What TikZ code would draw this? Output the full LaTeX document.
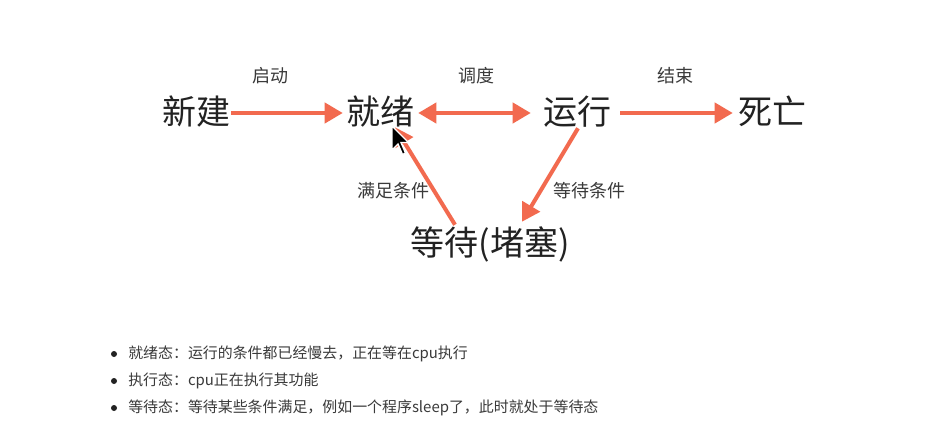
\documentclass[tikz,border=0pt]{standalone}
\usepackage{fontspec}
\setmainfont{Noto Sans CJK SC}
\usetikzlibrary{arrows.meta,calc}
\definecolor{arrc}{HTML}{F26A4F}
\definecolor{txt}{HTML}{222222}
\definecolor{lab}{HTML}{3A3A3A}
\begin{document}
\begin{tikzpicture}[x=0.75pt,y=-0.75pt,
 st/.style={font=\fontsize{25.5}{30}\selectfont, text=txt, inner sep=0pt, text height=22.4pt, text depth=3.1pt},
 lb/.style={font=\fontsize{13.5}{16}\selectfont, text=lab, inner sep=0pt},
 bl/.style={font=\fontsize{11.2}{14}\selectfont, text=lab, anchor=west, inner sep=0pt},
 bdot/.style={circle, fill=txt, inner sep=0pt, minimum size=4.5pt},
 arr/.style={draw=arrc, line width=3pt, -{Triangle[length=13.5pt,width=15pt]}},
 darr/.style={draw=arrc, line width=3pt, {Triangle[length=13.5pt,width=15pt]}-{Triangle[length=13.5pt,width=15pt]}}]
\useasboundingbox[fill=white] (0,0) rectangle (941,445);

% state nodes
\node[st] (xj) at (196,112) {新建};
\node[st] (jx) at (380,112) {就绪};
\node[st] (yx) at (577,112) {运行};
\node[st] (sw) at (772,112) {死亡};
\node[st] (dd) at (490,243) {等待(堵塞)};

% edge labels
\node[lb] (l1) at (270,76) {启动};
\node[lb] (l2) at (476,76) {调度};
\node[lb] (l3) at (675,76) {结束};
\node[lb] (l4) at (393,191) {满足条件};
\node[lb] (l5) at (589,191) {等待条件};

% connectors
\draw[arr] ($(xj.east)+(1,1)$) -- ($(jx.west)+(-3,1)$);
\draw[darr] ($(jx.east)+(4,1)$) -- ($(yx.west)+(-12,1)$);
\draw[arr] ($(yx.east)+(9,1)$) -- ($(sw.west)+(-5,1)$);
\draw[arr] ($(yx.south)+(1,-1)$) -- ($(dd.north)+(32,-4)$);
\draw[arr] ($(dd.north)+(-35,-1)$) -- ($(jx.south)+(15,-2)$);

% mouse cursor
\coordinate (cur) at (392,126);
\draw[fill=black, draw=white, line width=1pt, line join=miter]
  (cur) -- ++(0,24) -- ++(6,-6) -- ++(4.5,10.5) -- ++(3,-1.5) -- ++(-4.5,-10.5) -- ++(7.5,0) -- cycle;

% bullet list
\node[bdot] (b1) at (114,354) {};
\node[bdot] (b2) at (114,381) {};
\node[bdot] (b3) at (114,408) {};
\node[bl] (t1) at (128,354) {就绪态：运行的条件都已经慢去，正在等在cpu执行};
\node[bl] (t2) at (128,381) {执行态：cpu正在执行其功能};
\node[bl] (t3) at (128,408) {等待态：等待某些条件满足，例如一个程序sleep了，此时就处于等待态};
\end{tikzpicture}
\end{document}
